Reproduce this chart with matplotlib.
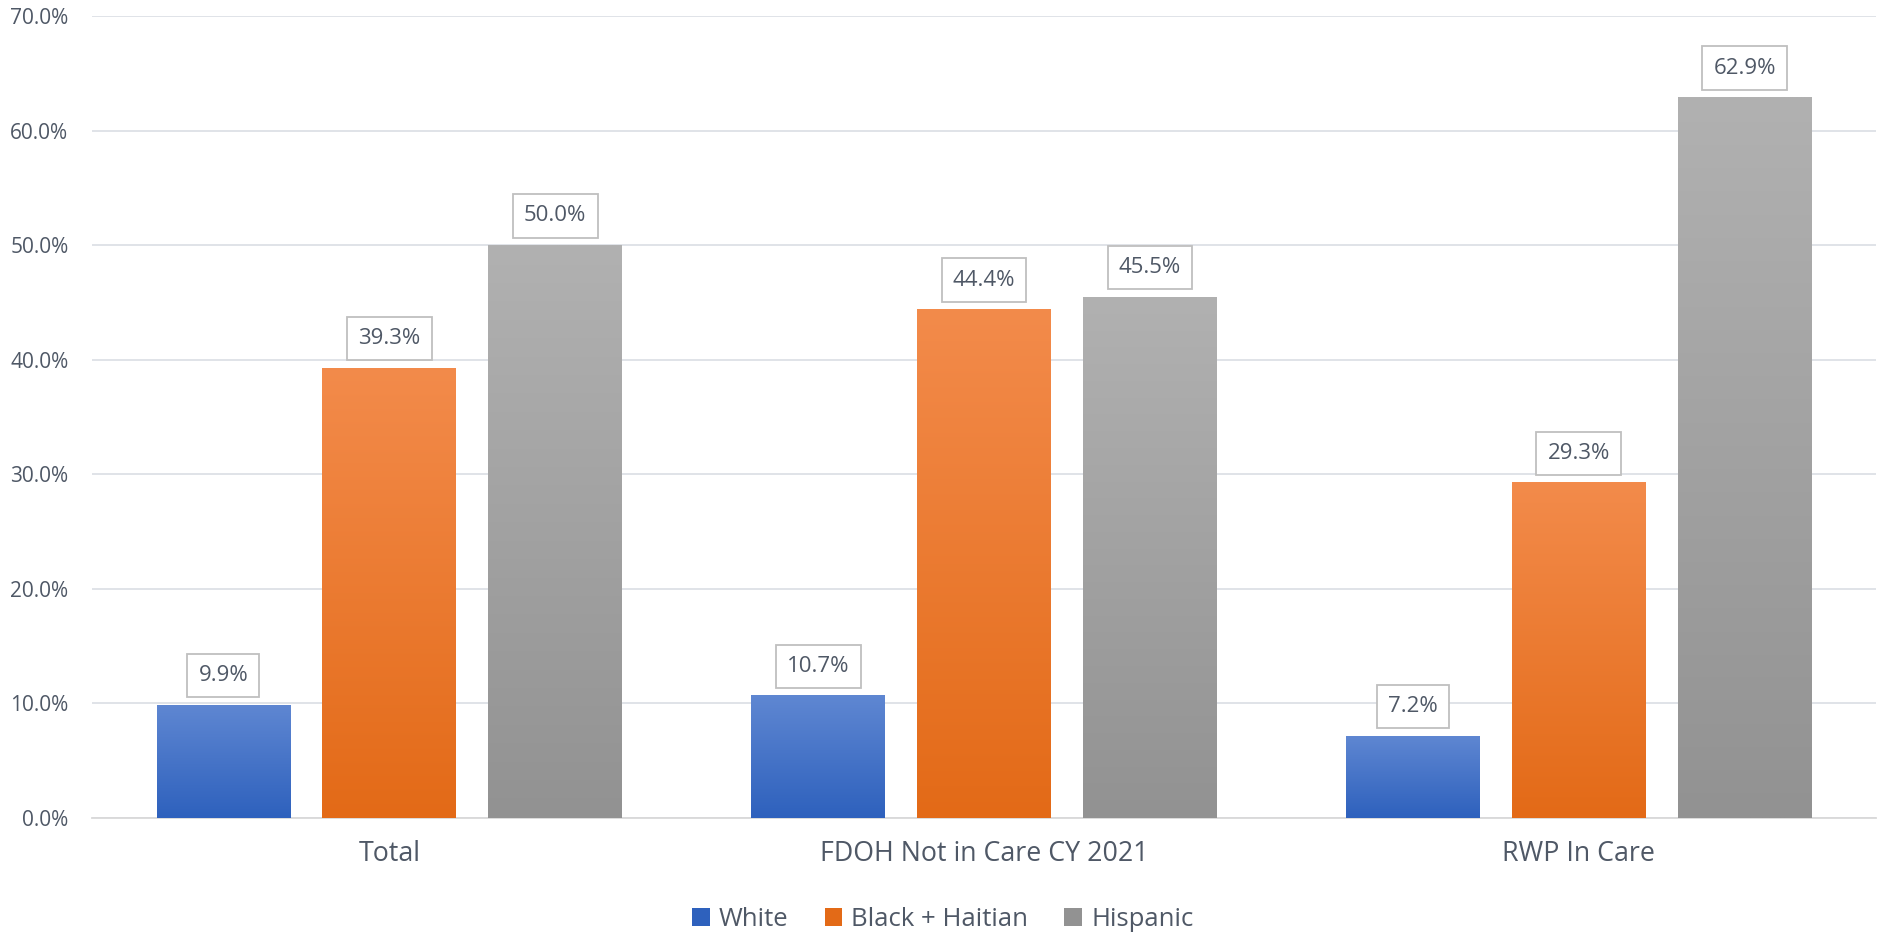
import numpy as np
import matplotlib
matplotlib.use("Agg")
from matplotlib import pyplot as plt
from matplotlib.colors import LinearSegmentedColormap
from matplotlib.ticker import FuncFormatter

categories = ["Total", "FDOH Not in Care CY 2021", "RWP In Care"]
series_names = ["White", "Black + Haitian", "Hispanic"]
white = [9.9, 10.7, 7.2]
black_haitian = [39.3, 44.4, 29.3]
hispanic = [50.0, 45.5, 62.9]
y_ticks = [0, 10, 20, 30, 40, 50, 60, 70]

# top / bottom colours of the gradient fill
grad_colors = [("#5F87D2", "#2E61BD"), ("#F38B4B", "#E36A17"), ("#B1B1B1", "#929292")]
text_color = "#4F5866"

plt.rcParams["font.family"] = ["Open Sans", "DejaVu Sans"]

fig = plt.figure(figsize=(18.97, 9.36), dpi=100)
ax = fig.add_axes([0.0485, 0.126, 0.9405, 0.857])

x = np.arange(len(categories))
width = 0.225
step = 0.279
values = [white, black_haitian, hispanic]

for i, (name, vals) in enumerate(zip(series_names, values)):
    pos = x + (i - 1) * step
    bars = ax.bar(pos, vals, width, color=grad_colors[i][1], edgecolor="none",
                  label=name, zorder=3)
    cmap = LinearSegmentedColormap.from_list("g%d" % i, [grad_colors[i][1], grad_colors[i][0]])
    for b in bars:
        x0, w, h = b.get_x(), b.get_width(), b.get_height()
        # each bar gets its own top-to-bottom gradient
        grad = np.linspace(0, 1, 256).reshape(-1, 1)
        im = ax.imshow(grad, aspect="auto", cmap=cmap, origin="lower",
                       extent=(x0, x0 + w, 0, h), zorder=3.5)
        im.set_clip_path(b)
    for p, v in zip(pos, vals):
        ax.annotate("%.1f%%" % v, (p, v), xytext=(0, 21), textcoords="offset points",
                    ha="center", va="center", fontsize=16, color=text_color,
                    bbox=dict(boxstyle="square,pad=0.5", fc="white", ec="#BFBFBF", lw=1.3),
                    zorder=5)

ax.set_xlim(-0.5, 2.5)
ax.set_ylim(0, 70)
ax.set_yticks(y_ticks)
ax.yaxis.set_major_formatter(FuncFormatter(lambda v, _: "%.1f%%" % v))
ax.set_xticks(x)
ax.set_xticklabels(categories)
ax.tick_params(axis="y", length=0, labelsize=15, labelcolor=text_color, pad=17)
ax.tick_params(axis="x", length=0, labelsize=19.3, labelcolor=text_color, pad=16)

ax.grid(axis="y", color="#DDE1E6", lw=1.3, zorder=0)
ax.set_axisbelow(True)
for s in ["top", "right", "left"]:
    ax.spines[s].set_visible(False)
ax.spines["bottom"].set_color("#D9D9D9")
ax.spines["bottom"].set_linewidth(1.3)

handles, labels = ax.get_legend_handles_labels()
leg = fig.legend(handles, labels, loc="center", bbox_to_anchor=(0.497, 0.018), ncol=3,
                 frameon=False, fontsize=18.5, handlelength=0.7, handleheight=0.7,
                 handletextpad=0.35, columnspacing=1.4)
for t in leg.get_texts():
    t.set_color(text_color)

fig.savefig("out.png", dpi=100, facecolor="white")
